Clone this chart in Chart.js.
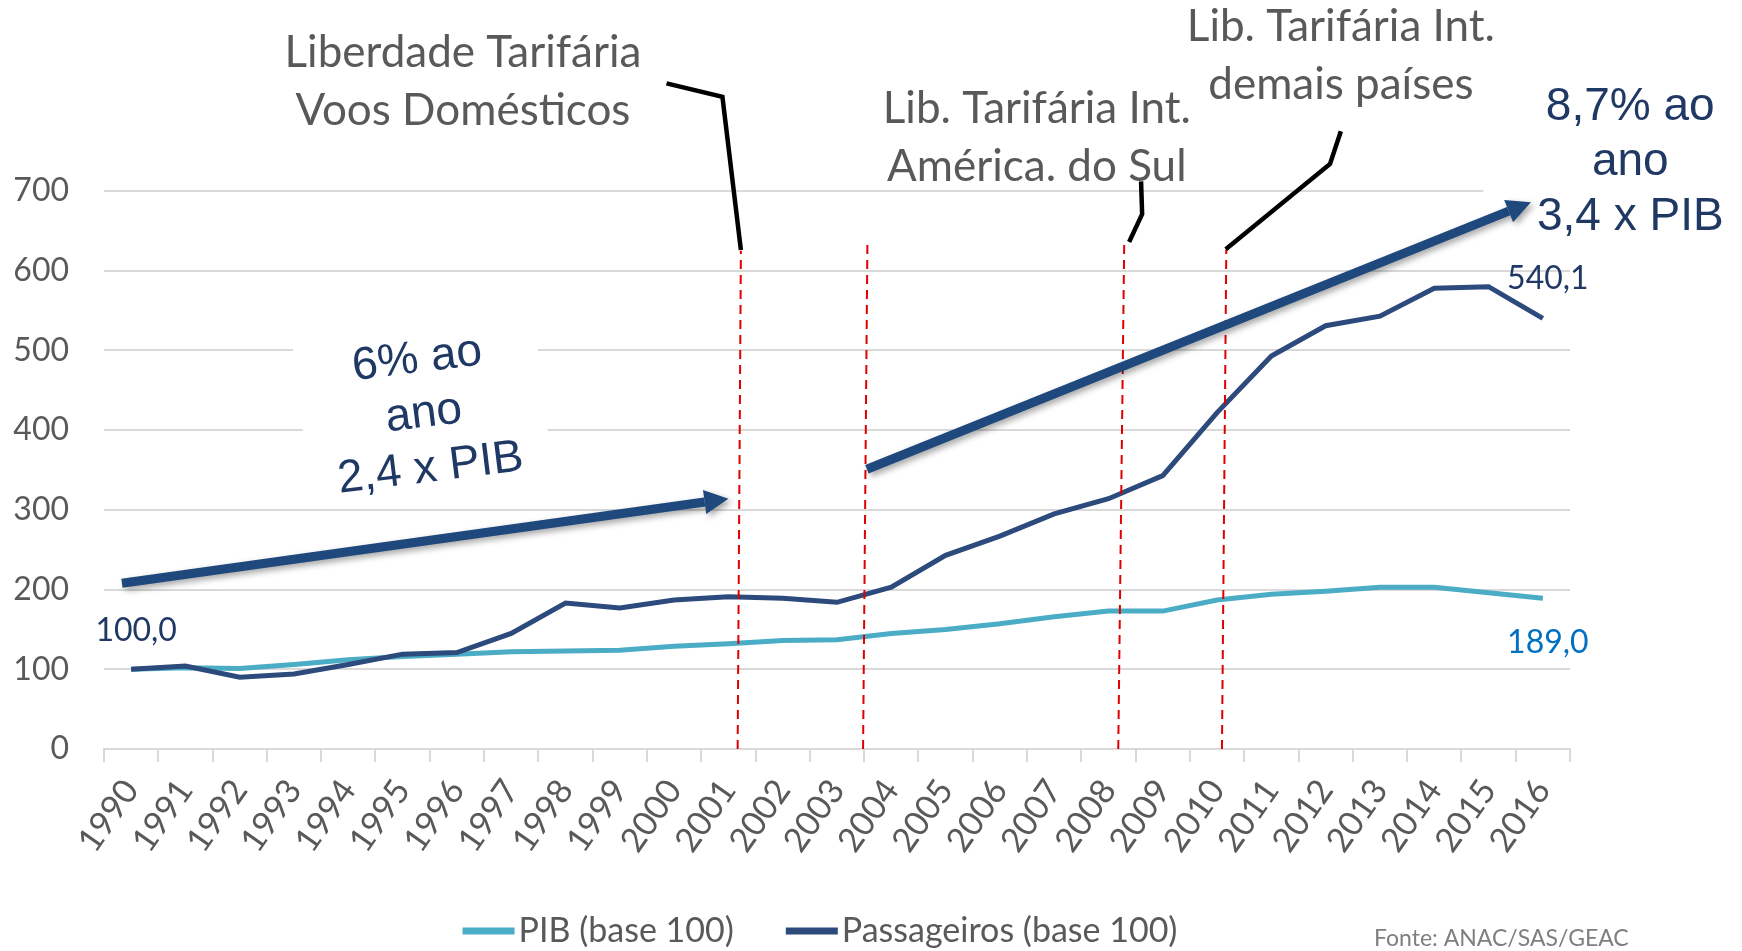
<!DOCTYPE html>
<html lang="pt">
<head>
<meta charset="utf-8">
<title>PIB x Passageiros (base 100)</title>
<script src="https://cdn.jsdelivr.net/npm/chart.js@4.4.1/dist/chart.umd.min.js"></script>
<style>
  html, body { margin: 0; padding: 0; background: #fff; overflow: hidden; }
  #wrap { width: 1742px; height: 951px; }
</style>
</head>
<body>
<div id="wrap"><canvas id="chart" width="1742" height="951"></canvas></div>
<script>
// --- dados ---
const anos = ["1990", "1991", "1992", "1993", "1994", "1995", "1996", "1997", "1998", "1999",
  "2000", "2001", "2002", "2003", "2004", "2005", "2006", "2007", "2008", "2009",
  "2010", "2011", "2012", "2013", "2014", "2015", "2016"];
const pib = [100, 102, 101, 106, 112, 116, 119, 122, 123, 124, 129, 132, 136, 137,
  145, 150, 157, 166, 173, 173, 187, 194, 198, 203, 203, 196, 189];
const passageiros = [100, 104, 90, 94, 106, 119, 121, 145, 183, 177, 187, 191, 189, 184,
  203, 243, 267, 295, 314, 343, 422, 493, 531, 543, 578, 580, 540.1];
const yTicks = [0, 100, 200, 300, 400, 500, 600, 700];

// anotações em unidades do gráfico: x = índice do ano (1990 = 0), y = valor
const marcos = [ // linhas tracejadas: [x base, x topo, y topo]
  [11.17, 11.23, 625],
  [13.48, 13.56, 635],
  [18.18, 18.29, 636],
  [20.09, 20.17, 627]
];
const chamadas = [ // linhas pretas das legendas
  [[9.86, 835], [10.89, 818], [11.23, 626]],
  [[18.6, 712], [18.62, 671], [18.38, 636]],
  [[22.28, 775], [22.08, 734], [20.16, 627]]
];
const setas = [
  [[-0.17, 208], [11.0, 314]],
  [[13.55, 351], [25.78, 686]]
];
const notasCinza = [
  { x: 6.11, y: 873, linhas: ["Liberdade Tarifária", "Voos Domésticos"] },
  { x: 16.68, y: 803, linhas: ["Lib. Tarifária Int.", "América. do Sul"] },
  { x: 22.28, y: 906, linhas: ["Lib. Tarifária Int.", "demais países"] }
];
const notasAzuis = [
  { x: 5.39, y: 420, rot: -7, linhas: ["6% ao", "ano", "2,4 x PIB"] },
  { x: 27.61, y: 736, rot: 0, linhas: ["8,7% ao", "ano", "3,4 x PIB"] }
];

const fmt = v => v.toFixed(1).replace(".", ",");

const anotacoes = {
  id: "anotacoes",
  beforeDatasetsDraw(chart) {
    // caixas brancas dos textos (cortam as linhas de grade)
    const { ctx, scales: { x, y } } = chart;
    ctx.save();
    ctx.fillStyle = "#fff";
    const a = notasAzuis[0];
    ctx.translate(x.getPixelForValue(a.x), y.getPixelForValue(a.y));
    ctx.rotate(a.rot * Math.PI / 180);
    ctx.fillRect(-122, -100, 243, 165);
    ctx.restore();
    const b = notasAzuis[1];
    const bx = x.getPixelForValue(b.x), by = y.getPixelForValue(b.y);
    ctx.save();
    ctx.fillStyle = "#fff";
    ctx.fillRect(bx - 147, by - 106, 320, 200);
    ctx.restore();
  },
  afterDraw(chart) {
    const { ctx, scales: { x, y } } = chart;
    const P = (p) => [x.getPixelForValue(p[0]), y.getPixelForValue(p[1])];

    // linhas tracejadas vermelhas
    ctx.save();
    ctx.strokeStyle = "#E00000";
    ctx.lineWidth = 2;
    ctx.setLineDash([9, 6]);
    marcos.forEach(m => {
      ctx.beginPath();
      ctx.moveTo(x.getPixelForValue(m[0]), y.getPixelForValue(0));
      ctx.lineTo(x.getPixelForValue(m[1]), y.getPixelForValue(m[2]));
      ctx.stroke();
    });
    ctx.restore();

    // chamadas pretas
    ctx.save();
    ctx.strokeStyle = "#000";
    ctx.lineWidth = 4.5;
    ctx.lineJoin = "miter";
    chamadas.forEach(c => {
      ctx.beginPath();
      c.forEach((p, i) => {
        const [px, py] = P(p);
        if (i === 0) ctx.moveTo(px, py); else ctx.lineTo(px, py);
      });
      ctx.stroke();
    });
    ctx.restore();

    // setas
    setas.forEach(s => {
      const [x1, y1] = P(s[0]);
      const [x2, y2] = P(s[1]);
      const ang = Math.atan2(y2 - y1, x2 - x1);
      const head = 24, half = 12;
      const hx = x2 - head * Math.cos(ang), hy = y2 - head * Math.sin(ang);
      ctx.save();
      ctx.shadowColor = "rgba(0,0,0,0.35)";
      ctx.shadowBlur = 6;
      ctx.shadowOffsetX = 3;
      ctx.shadowOffsetY = 3;
      ctx.strokeStyle = "#1F497D";
      ctx.fillStyle = "#1F497D";
      ctx.lineWidth = 9;
      ctx.beginPath();
      ctx.moveTo(x1, y1);
      ctx.lineTo(hx, hy);
      ctx.stroke();
      ctx.beginPath();
      ctx.moveTo(x2, y2);
      ctx.lineTo(hx + half * Math.sin(ang), hy - half * Math.cos(ang));
      ctx.lineTo(hx - half * Math.sin(ang), hy + half * Math.cos(ang));
      ctx.closePath();
      ctx.fill();
      ctx.restore();
    });

    // textos cinza
    ctx.save();
    ctx.fillStyle = "#595959";
    ctx.font = "44px Lato";
    ctx.textAlign = "center";
    ctx.textBaseline = "middle";
    notasCinza.forEach(n => {
      const px = x.getPixelForValue(n.x), py = y.getPixelForValue(n.y);
      n.linhas.forEach((t, i) => ctx.fillText(t, px, py + i * 58));
    });
    ctx.restore();

    // textos azuis
    notasAzuis.forEach(n => {
      ctx.save();
      ctx.fillStyle = "#1F3864";
      ctx.font = "46px 'Liberation Sans'";
      ctx.textAlign = "center";
      ctx.textBaseline = "middle";
      ctx.translate(x.getPixelForValue(n.x), y.getPixelForValue(n.y));
      ctx.rotate(n.rot * Math.PI / 180);
      n.linhas.forEach((t, i) => ctx.fillText(t, 0, (i - 1) * 55));
      ctx.restore();
    });

    // rótulos de dados
    const pass = chart.getDatasetMeta(1).data;
    const pibPts = chart.getDatasetMeta(0).data;
    ctx.save();
    ctx.font = "32px Lato";
    ctx.textAlign = "center";
    ctx.textBaseline = "middle";
    ctx.fillStyle = "#1F3864";
    ctx.fillText(fmt(passageiros[0]), pass[0].x + 5, pass[0].y - 39);
    const last = pass.length - 1;
    ctx.fillText(fmt(passageiros[last]), pass[last].x + 5, pass[last].y - 40);
    ctx.fillStyle = "#0070C0";
    ctx.fillText(fmt(pib[last]), pibPts[last].x + 5, pibPts[last].y + 44);
    ctx.restore();

    // legenda
    ctx.save();
    ctx.font = "34px Lato";
    ctx.textBaseline = "middle";
    const itens = chart.data.datasets.map(d => ({ label: d.label, cor: d.borderColor }));
    const mw = 52, gap = 4, sep = 52;
    let total = 0;
    itens.forEach((it, i) => { total += mw + gap + ctx.measureText(it.label).width + (i ? sep : 0); });
    let cx = 820 - total / 2;
    const ly = 931;
    itens.forEach((it, i) => {
      if (i) cx += sep;
      ctx.fillStyle = it.cor;
      ctx.fillRect(cx, ly - 3.5, mw, 7);
      cx += mw + gap;
      ctx.fillStyle = "#595959";
      ctx.fillText(it.label, cx, ly);
      cx += ctx.measureText(it.label).width;
    });
    ctx.restore();

    // fonte
    ctx.save();
    ctx.font = "23px Lato";
    ctx.fillStyle = "#7F7F7F";
    ctx.textBaseline = "middle";
    ctx.fillText("Fonte: ANAC/SAS/GEAC", 1374, 939);
    ctx.restore();
  }
};

Chart.defaults.font.family = "Lato";
Chart.defaults.color = "#595959";

new Chart(document.getElementById("chart"), {
  type: "line",
  data: {
    labels: anos,
    datasets: [{
      label: "PIB (base 100)",
      data: pib,
      borderColor: "#4BACC6",
      backgroundColor: "#4BACC6",
      borderWidth: 5,
      pointRadius: 0,
      tension: 0,
      order: 1
    }, {
      label: "Passageiros (base 100)",
      data: passageiros,
      borderColor: "#2C4A7B",
      backgroundColor: "#2C4A7B",
      borderWidth: 5,
      pointRadius: 0,
      tension: 0,
      order: 0
    }]
  },
  options: {
    responsive: false,
    animation: false,
    devicePixelRatio: 1,
    layout: { padding: { top: 191, right: 172, bottom: 42, left: 0 } },
    scales: {
      x: {
        offset: true,
        grid: { offset: true, drawOnChartArea: false, drawTicks: true, tickLength: 13, color: "#D9D9D9", lineWidth: 2 },
        border: { color: "#D9D9D9", width: 2 },
        ticks: { autoSkip: false, minRotation: 55, maxRotation: 55, padding: 10, color: "#595959", font: { size: 34 } },
        afterFit: s => { s.height = 160; }
      },
      y: {
        min: 0,
        max: 700,
        grid: { drawTicks: false, color: "#D9D9D9", lineWidth: 2 },
        border: { display: false },
        ticks: { padding: 35, color: "#595959", font: { size: 32 } },
        afterBuildTicks: s => { s.ticks = yTicks.map(v => ({ value: v })); },
        afterFit: s => { s.width = 104; }
      }
    },
    plugins: {
      legend: { display: false },
      tooltip: { enabled: false }
    }
  },
  plugins: [anotacoes]
});
</script>
</body>
</html>
